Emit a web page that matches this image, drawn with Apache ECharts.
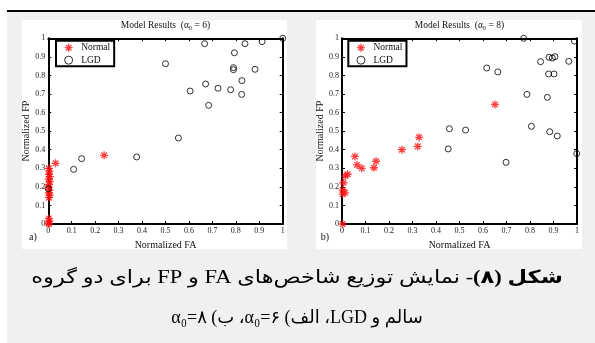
<!DOCTYPE html>
<html>
<head>
<meta charset="utf-8">
<script src="https://cdn.jsdelivr.net/npm/echarts@6/dist/echarts.min.js"></script>
<style>
html,body{margin:0;padding:0;background:#fff;}
#c{width:595px;height:343px;}
</style>
</head>
<body>
<div id="c"></div>
<script>
// ---- data (Normalized FA, Normalized FP) ----
const tickLabels = ['0','0.1','0.2','0.3','0.4','0.5','0.6','0.7','0.8','0.9','1'];
const seriesNames = ['Normal', 'LGD'];
const titlesText = ['Model Results  (\u03b1\u2080 = 6)', 'Model Results  (\u03b1\u2080 = 8)'];

const normalA = [[0.238,0.370],[0.031,0.327],[0.002,0.300],[0.005,0.285],[0.003,0.268],[0.007,0.255],[0.002,0.242],[0.006,0.228],[0.003,0.212],[0.001,0.198],[0.005,0.182],[0.002,0.168],[0.006,0.155],[0.003,0.142],[0.002,0.030],[0.005,0.016],[0.001,0.006],[0.003,0.000]];
const lgdA = [[1.000,1.000],[0.500,0.863],[0.667,0.971],[0.794,0.922],[0.839,0.971],[0.912,0.982],[0.790,0.842],[0.790,0.831],[0.882,0.833],[0.826,0.772],[0.671,0.754],[0.605,0.716],[0.724,0.731],[0.778,0.723],[0.825,0.698],[0.684,0.639],[0.555,0.463],[0.142,0.352],[0.377,0.361],[0.108,0.294],[0.000,0.190]];

const normalB = [[0.651,0.644],[0.328,0.467],[0.322,0.418],[0.255,0.400],[0.145,0.338],[0.136,0.303],[0.055,0.364],[0.064,0.318],[0.084,0.300],[0.024,0.268],[0.013,0.258],[0.006,0.222],[0.003,0.183],[0.013,0.168],[0.003,0.161],[0.003,0.000]];
const lgdB = [[0.773,1.000],[0.989,0.985],[0.616,0.840],[0.663,0.819],[0.845,0.874],[0.881,0.898],[0.895,0.894],[0.906,0.901],[0.965,0.876],[0.879,0.808],[0.902,0.808],[0.787,0.698],[0.874,0.682],[0.457,0.513],[0.526,0.506],[0.452,0.404],[0.806,0.526],[0.884,0.497],[0.916,0.474],[0.698,0.332],[0.999,0.379]];

const captionLine1Bold = 'شکل (۸)';
const captionLine1Rest = '- نمایش توزیع شاخص‌های FA و FP برای دو گروه';
const captionLine2 = 'سالم و LGD، الف) α₀=۶، ب) α₀=۸';

// ---- chart ----
const SERIF = "'Liberation Serif', 'Times New Roman', serif";
const STAR = 'path://M0,5L10,5M5,0L5,10M1.5,1.5L8.5,8.5M1.5,8.5L8.5,1.5';
const grids = [
  {left: 48.3, top: 38.3, width: 234.4, height: 185.7},
  {left: 342, top: 38.3, width: 235, height: 185.7}
];
const fmt = v => tickLabels[Math.round(v * 10)];

function xAxes(g) {
  const base = {type: 'value', gridIndex: g, min: 0, max: 1, interval: 0.1,
    splitLine: {show: false},
    axisLine: {show: true, onZero: false, lineStyle: {color: '#000', width: 2}},
    axisTick: {show: true, inside: true, length: 3, lineStyle: {color: '#000', width: 1}}};
  return [
    Object.assign({}, base, {position: 'bottom',
      axisLabel: {fontSize: 8, fontFamily: SERIF, color: '#222', margin: 3, formatter: fmt},
      name: 'Normalized FA', nameLocation: 'middle', nameGap: 10,
      nameTextStyle: {fontSize: 10, fontFamily: SERIF, color: '#111'}}),
    Object.assign({}, base, {position: 'top', axisLabel: {show: false}})
  ];
}
function yAxes(g) {
  const base = {type: 'value', gridIndex: g, min: 0, max: 1, interval: 0.1,
    splitLine: {show: false},
    axisLine: {show: true, onZero: false, lineStyle: {color: '#000', width: 2}},
    axisTick: {show: true, inside: true, length: 3, lineStyle: {color: '#000', width: 1}}};
  return [
    Object.assign({}, base, {position: 'left',
      axisLabel: {fontSize: 8, fontFamily: SERIF, color: '#222', margin: 3, formatter: fmt},
      name: 'Normalized FP', nameLocation: 'middle', nameGap: 15, nameRotate: 90,
      nameTextStyle: {fontSize: 10, fontFamily: SERIF, color: '#111'}}),
    Object.assign({}, base, {position: 'right', axisLabel: {show: false}})
  ];
}

const normalStyle = {color: 'rgba(0,0,0,0)', borderColor: '#ff1010', borderWidth: 1.3};
const lgdStyle = {color: 'rgba(0,0,0,0)', borderColor: '#000', borderWidth: 1};

function mkSeries(name, data, g) {
  const isN = name === 'Normal';
  return {type: 'scatter', name: name, data: data, xAxisIndex: g * 2, yAxisIndex: g * 2,
    symbol: isN ? STAR : 'circle', symbolSize: isN ? 8 : 6, clip: false,
    itemStyle: isN ? normalStyle : lgdStyle, z: isN ? 2 : 3,
    emphasis: {disabled: true}};
}

function mkLegend(left) {
  return {left: left, top: 40.7, orient: 'vertical', padding: [2, 4, 1, 8],
    borderColor: '#000', borderWidth: 2, backgroundColor: '#fff',
    itemWidth: 9, itemHeight: 8, itemGap: 2.5, selectedMode: false,
    textStyle: {fontSize: 9.5, fontFamily: SERIF, color: '#111', padding: [0, 0, 0, 3]},
    data: [
      {name: 'Normal', icon: STAR, itemStyle: normalStyle},
      {name: 'LGD', icon: 'circle', itemStyle: lgdStyle}
    ]};
}

function txt(x, y, text, size, extra) {
  return {type: 'text', z: 10, x: x, y: y,
    style: Object.assign({text: text, fontSize: size, fontFamily: SERIF, fill: '#111',
      align: 'center', verticalAlign: 'middle'}, extra || {})};
}

const CAPFONT = "'Liberation Serif', 'DejaVu Sans', serif";

const option = {
  backgroundColor: '#fff',
  animation: false,
  grid: grids,
  xAxis: xAxes(0).concat(xAxes(1)),
  yAxis: yAxes(0).concat(yAxes(1)),
  legend: [mkLegend(56), mkLegend(348.3)],
  series: [
    mkSeries(seriesNames[0], normalA, 0), mkSeries(seriesNames[1], lgdA, 0),
    mkSeries(seriesNames[0], normalB, 1), mkSeries(seriesNames[1], lgdB, 1)
  ],
  graphic: [
    {type: 'rect', z: -10, shape: {x: 7, y: 12, width: 588, height: 331}, style: {fill: '#f0f0f0'}},
    {type: 'line', z: -9, shape: {x1: 7, y1: 11, x2: 595, y2: 11}, style: {stroke: '#000', lineWidth: 2}},
    {type: 'rect', z: -8, shape: {x: 22, y: 20, width: 265, height: 229}, style: {fill: '#fff'}},
    {type: 'rect', z: -8, shape: {x: 316, y: 20, width: 266, height: 229}, style: {fill: '#fff'}},
    txt(165.5, 25.7, titlesText[0], 9.5),
    txt(459.5, 25.7, titlesText[1], 9.5),
    txt(33, 237, 'a)', 10),
    txt(325, 237, 'b)', 10),
    {type: 'text', z: 10, x: 297, y: 278, scaleX: 1.25, originX: 0, originY: 0,
      style: {text: '{n|\u202B' + captionLine1Rest + '\u202C}{b|\u202B' + captionLine1Bold + '\u202C}',
        x: 0, y: 0,
        align: 'center', verticalAlign: 'middle', fill: '#000',
        rich: {
          n: {fontSize: 18, fontFamily: CAPFONT, color: '#000'},
          b: {fontSize: 18, fontFamily: CAPFONT, fontWeight: 'bold', color: '#000'}
        }}},
    txt(297, 318, '\u202B' + captionLine2 + '\u202C', 18, {fontFamily: CAPFONT, fill: '#000'})
  ]
};

const chart = echarts.init(document.getElementById('c'), null, {renderer: 'canvas'});
chart.setOption(option);
</script>
</body>
</html>
